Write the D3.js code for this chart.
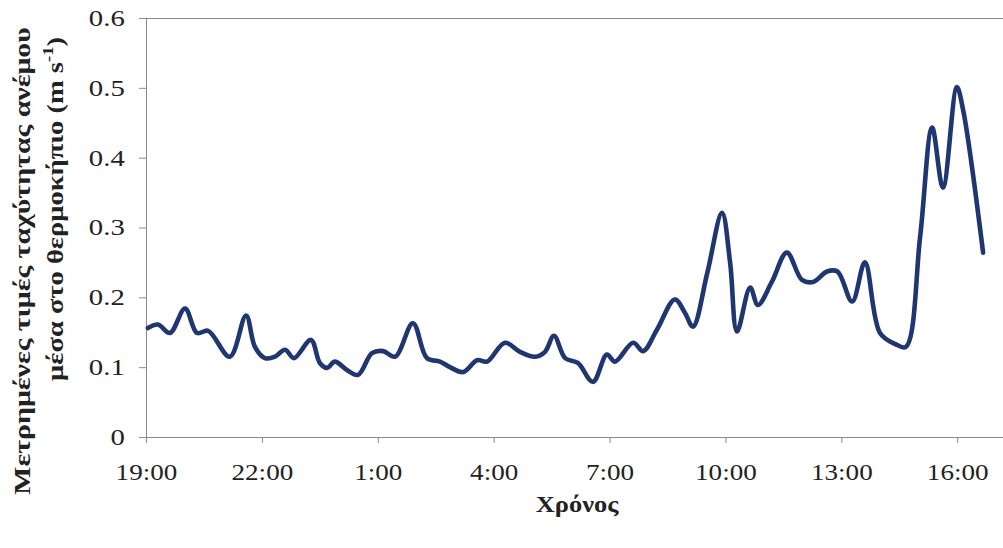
<!DOCTYPE html>
<html>
<head>
<meta charset="utf-8">
<script src="https://cdn.jsdelivr.net/npm/d3@7"></script>
<style>
  html, body { margin: 0; padding: 0; background: #fff; }
  svg { display: block; font-family: "Liberation Serif", "Times New Roman", serif; }
</style>
</head>
<body>
<svg id="chart" width="1003" height="548"></svg>
<script>
// Elapsed hours since 19:00
const hours = [0.05, 0.31, 0.62, 1.01, 1.32, 1.61, 2.17, 2.59, 2.82, 3.08, 3.34, 3.60, 3.83, 4.27, 4.50,
  4.69, 4.89, 5.20, 5.49, 5.85, 6.14, 6.45, 6.91, 7.27, 7.61, 7.87, 8.21, 8.57, 8.83, 9.29, 9.68,
  10.07, 10.33, 10.56, 10.85, 11.18, 11.57, 11.93, 12.14, 12.61, 12.87, 13.23, 13.69, 13.95, 14.16,
  14.53, 14.91, 15.12, 15.30, 15.64, 15.84, 16.20, 16.59, 16.98, 17.27, 17.63, 17.90, 18.28, 18.61,
  19.00, 19.40, 19.67, 20.04, 20.35, 20.63, 20.99, 21.15, 21.67];
// Measured wind speed (m/s)
const speeds = [0.156, 0.161, 0.149, 0.184, 0.149, 0.152, 0.115, 0.174, 0.129, 0.113, 0.115, 0.125, 0.113, 0.139, 0.106,
  0.099, 0.108, 0.096, 0.089, 0.120, 0.123, 0.115, 0.163, 0.113, 0.108, 0.100, 0.093, 0.110, 0.108, 0.135, 0.122,
  0.115, 0.122, 0.145, 0.113, 0.106, 0.079, 0.118, 0.108, 0.135, 0.123, 0.154, 0.197, 0.178, 0.158,
  0.235, 0.321, 0.250, 0.151, 0.214, 0.189, 0.222, 0.264, 0.225, 0.222, 0.237, 0.237, 0.194, 0.250,
  0.149, 0.133, 0.129, 0.287, 0.443, 0.357, 0.501, 0.469, 0.264];
const xTickHours = [0, 3, 6, 9, 12, 15, 18, 21];
const xTickLabels = ["19:00", "22:00", "1:00", "4:00", "7:00", "10:00", "13:00", "16:00"];
const yTicks = [0, 0.1, 0.2, 0.3, 0.4, 0.5, 0.6];

const svg = d3.select("#chart");
const mLeft = 146, mTop = 18, mBottom = 437, mRight = 1003;
const pxPerHour = 38.63;

const x = d3.scaleLinear().domain([0, (mRight - mLeft) / pxPerHour]).range([mLeft, mRight]);
const y = d3.scaleLinear().domain([0, 0.6]).range([mBottom, mTop]);

const axisColor = "#8a8a8a";
const textColor = "#222";

// top border
svg.append("line").attr("x1", mLeft - 7).attr("x2", mRight).attr("y1", y(0.6) + 0.5).attr("y2", y(0.6) + 0.5)
  .attr("stroke", axisColor).attr("stroke-width", 1);

const yAxis = svg.append("g").attr("transform", `translate(${mLeft},0)`)
  .call(d3.axisLeft(y).tickValues(yTicks).tickSize(7).tickPadding(10)
    .tickFormat(d => d === 0 ? "0" : d3.format(".1f")(d)));
yAxis.selectAll("path,line").attr("stroke", axisColor);
yAxis.selectAll("text").attr("font-size", 23).attr("fill", textColor)
  .attr("font-family", "Liberation Serif").attr("transform", "scale(1.25,1)");

const xAxis = svg.append("g").attr("transform", `translate(0,${mBottom})`)
  .call(d3.axisBottom(x).tickValues(xTickHours).tickSize(6).tickPadding(21)
    .tickFormat((d, i) => xTickLabels[i]));
xAxis.selectAll("path,line").attr("stroke", axisColor);
xAxis.select("path.domain").attr("d", `M${mLeft},0.5H${mRight}`);
xAxis.selectAll("text").attr("font-size", 23).attr("fill", textColor)
  .attr("font-family", "Liberation Serif").attr("transform", "scale(1.18,1)");

const line = d3.line()
  .x((d, i) => x(hours[i]))
  .y(d => y(d))
  .curve(d3.curveCatmullRom.alpha(0.5));

svg.append("path").datum(speeds)
  .attr("d", line)
  .attr("fill", "none")
  .attr("stroke", "#1f3670")
  .attr("stroke-width", 4.6)
  .attr("stroke-linejoin", "round")
  .attr("stroke-linecap", "round");

// x title
svg.append("text").attr("transform", "translate(577,512) scale(1.15,1)").attr("text-anchor", "middle")
  .attr("font-size", 23).attr("font-weight", "bold").attr("fill", textColor).text("Χρόνος");

// y title (two lines)
svg.append("text").attr("transform", "translate(30,261) rotate(-90) scale(1.3,1)").attr("text-anchor", "middle")
  .attr("font-size", 23).attr("font-weight", "bold").attr("fill", textColor)
  .text("Μετρημένες τιμές ταχύτητας ανέμου");
const t2 = svg.append("text").attr("transform", "translate(63,209) rotate(-90) scale(1.24,1)").attr("text-anchor", "middle")
  .attr("font-size", 23).attr("font-weight", "bold").attr("fill", textColor);
t2.append("tspan").text("μέσα στο θερμοκήπιο (m s");
t2.append("tspan").attr("dy", -10).attr("font-size", 15).text("-1");
t2.append("tspan").attr("dy", 10).text(")");
</script>
</body>
</html>
